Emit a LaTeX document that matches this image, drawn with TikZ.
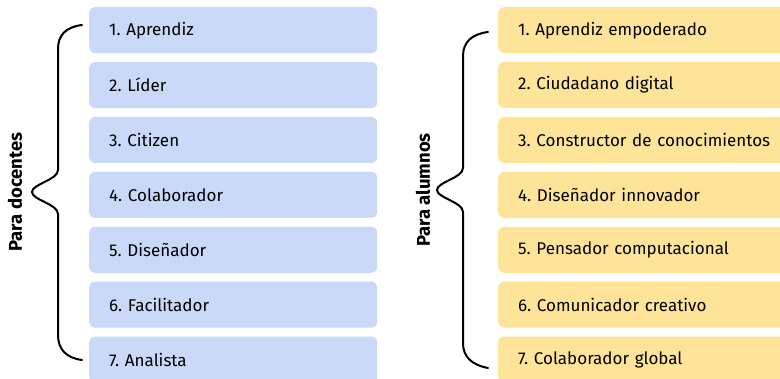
\documentclass[tikz,border=0pt]{standalone}
\usepackage{fontspec}
\setmainfont{Fira Sans}
\frenchspacing
\usetikzlibrary{positioning}

\definecolor{docblue}{RGB}{201,217,247}
\definecolor{alumyellow}{RGB}{254,228,153}

\tikzset{
  rol/.style={rounded corners=6pt, minimum width=288pt, minimum height=46pt,
    text width=248pt, inner xsep=20pt, inner ysep=0pt, align=left,
    font=\fontsize{17}{19}\selectfont},
  docente/.style={rol, fill=docblue},
  alumno/.style={rol, fill=alumyellow, minimum width=300pt, text width=260pt},
  llave/.style={line width=2pt, line cap=round},
  grupo/.style={rotate=90, font=\fontsize{18.5}{20}\selectfont\bfseries}
}

\begin{document}
\begin{tikzpicture}[x=1pt, y=1pt, node distance=8.5pt]
  \useasboundingbox (0,0) rectangle (780,379);

  % Para docentes
  \node[docente, anchor=north west] (d1) at (89,372) {1. Aprendiz};
  \node[docente, below=of d1] (d2) {2. Líder};
  \node[docente, below=of d2] (d3) {3. Citizen};
  \node[docente, below=of d3] (d4) {4. Colaborador};
  \node[docente, below=of d4] (d5) {5. Diseñador};
  \node[docente, below=of d5] (d6) {6. Facilitador};
  \node[docente, below=of d6] (d7) {7. Analista};

  % Para alumnos
  \node[alumno, anchor=north west] (a1) at (498,372) {1. Aprendiz empoderado};
  \node[alumno, below=of a1] (a2) {2. Ciudadano digital};
  \node[alumno, below=of a2] (a3) {3. Constructor de conocimientos};
  \node[alumno, below=of a3] (a4) {4. Diseñador innovador};
  \node[alumno, below=of a4] (a5) {5. Pensador computacional};
  \node[alumno, below=of a5] (a6) {6. Comunicador creativo};
  \node[alumno, below=of a6] (a7) {7. Colaborador global};

  % Llaves
  \coordinate (dtop) at (82,354);
  \coordinate (dtip) at (32,187);
  \coordinate (dbot) at (82,19);
  \draw[llave] (dtop) .. controls (66,352) and (58,344) .. (58,330)
    -- (58,209) .. controls (58,199) and (32,195) .. (dtip)
    .. controls (32,179) and (58,175) .. (58,165)
    -- (58,44) .. controls (58,30) and (66,21) .. (dbot);

  \coordinate (atop) at (488,347);
  \coordinate (atip) at (437,189);
  \coordinate (abot) at (488,11);
  \draw[llave] (atop) .. controls (472,345) and (463,337) .. (463,323)
    -- (463,211) .. controls (463,201) and (437,197) .. (atip)
    .. controls (437,181) and (463,177) .. (463,167)
    -- (463,36) .. controls (463,22) and (472,14) .. (abot);

  % Etiquetas
  \node[grupo] (pd) at (15,187) {Para docentes};
  \node[grupo] (pa) at (423,189) {Para alumnos};
\end{tikzpicture}
\end{document}
